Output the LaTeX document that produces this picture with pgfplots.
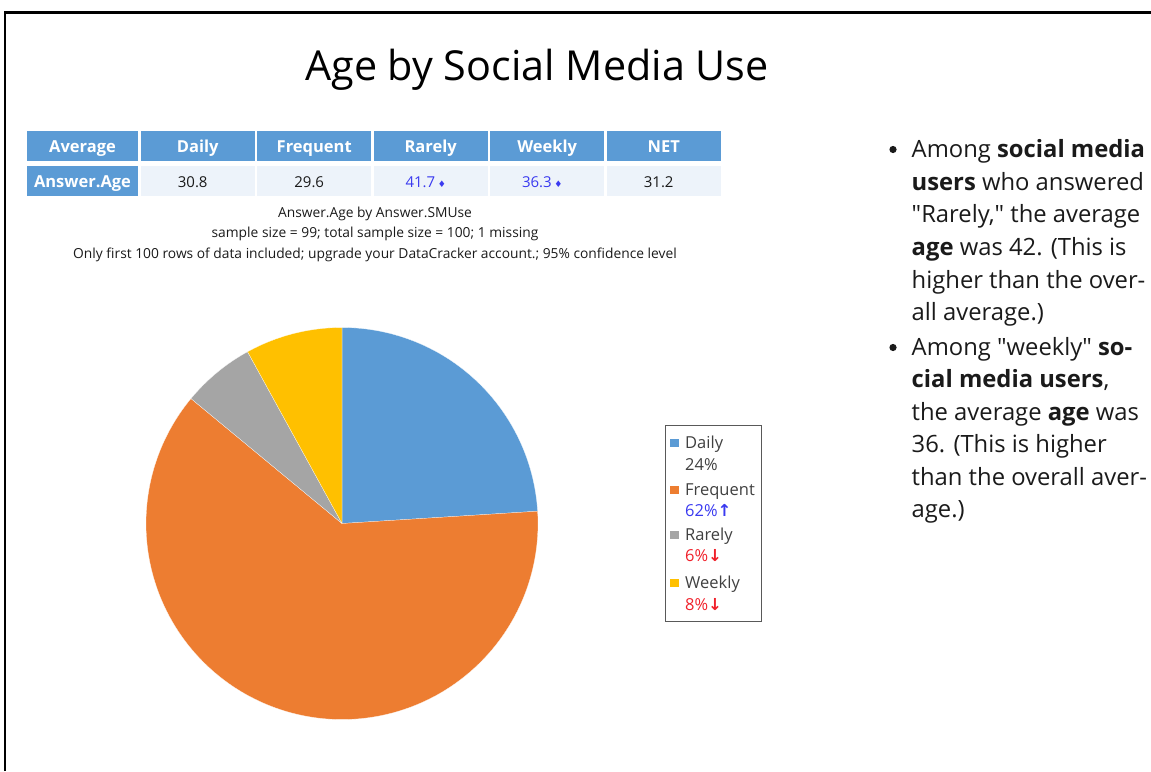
\documentclass[border=0pt]{standalone}
\usepackage{fontspec}
\setmainfont{Open Sans}
\newfontfamily\dejavu{DejaVu Sans}
\newfontfamily\osq{Open Sans}
\usepackage{pgfplots}
\pgfplotsset{compat=1.18}
\definecolor{cdaily}{HTML}{5B9BD5}
\definecolor{cfreq}{HTML}{ED7D31}
\definecolor{crare}{HTML}{A5A5A5}
\definecolor{cweek}{HTML}{FFC000}
\definecolor{hdr}{HTML}{5B9BD5}
\definecolor{rowbg}{HTML}{EDF3FA}
\definecolor{valblue}{HTML}{3A3AF0}
\definecolor{valred}{HTML}{F0202A}
\definecolor{txt}{HTML}{1A1A1A}
\definecolor{legtxt}{HTML}{404040}
% pie shares (percent)
\def\pDaily{24}
\def\pFreq{62}
\def\pRare{6}
\def\pWeek{8}
\pgfmathsetmacro\aA{90}
\pgfmathsetmacro\aB{\aA-3.6*\pDaily}
\pgfmathsetmacro\aC{\aB-3.6*\pFreq}
\pgfmathsetmacro\aD{\aC-3.6*\pRare}
\pgfmathsetmacro\aE{\aD-3.6*\pWeek}
\newcommand\q{{\osq\char34}}
\begin{document}
\begin{tikzpicture}
\useasboundingbox (0pt,0pt) rectangle (1151pt,-771pt);
% pie
\begin{axis}[at={(342pt,-523.5pt)}, anchor=center, scale only axis, width=392pt, height=392pt,
  xmin=-1, xmax=1, ymin=-1, ymax=1, hide axis, clip=false]
\addplot[draw=white, line width=0.2pt, fill=cdaily, domain=\aB:\aA, samples=90] ({cos(x)},{sin(x)}) -- (axis cs:0,0) -- cycle;
\addplot[draw=white, line width=0.2pt, fill=cfreq, domain=\aC:\aB, samples=200] ({cos(x)},{sin(x)}) -- (axis cs:0,0) -- cycle;
\addplot[draw=white, line width=0.2pt, fill=crare, domain=\aD:\aC, samples=30] ({cos(x)},{sin(x)}) -- (axis cs:0,0) -- cycle;
\addplot[draw=white, line width=0.2pt, fill=cweek, domain=\aE:\aD, samples=30] ({cos(x)},{sin(x)}) -- (axis cs:0,0) -- cycle;
\end{axis}
\begin{scope}[x=1pt,y=1pt]
% frame
\draw[black, line width=2.6pt] (5,-771) -- (5,-12.5) -- (1151,-12.5);
% title
\node[anchor=base, inner sep=0, text=black, font=\fontsize{41.3}{48}\selectfont] at (537,-80) {Age by Social Media Use};
% table
\fill[hdr] (27,-131) rectangle (138,-161);
\fill[hdr] (27,-166) rectangle (138,-196);
\node[anchor=base, inner sep=0, text=white, font=\fontsize{16.5}{19}\selectfont\bfseries] at (82.5,-152) {Average};
\node[anchor=base, inner sep=0, text=white, font=\fontsize{16.5}{19}\selectfont\bfseries] at (82.5,-187) {Answer.Age};
\foreach \k/\h/\v in {0/Daily/{30.8},1/Frequent/{29.6},2/Rarely/{\textcolor{valblue}{41.7\,{\dejavu\fontsize{9}{10}\selectfont ♦}}},3/Weekly/{\textcolor{valblue}{36.3\,{\dejavu\fontsize{9}{10}\selectfont ♦}}},4/NET/{31.2}}{
  \pgfmathsetmacro\xl{140.7+116.5*\k}
  \pgfmathsetmacro\xr{\xl+114}
  \pgfmathsetmacro\xc{\xl+57}
  \fill[hdr] (\xl,-131) rectangle (\xr,-161);
  \fill[rowbg] (\xl,-166) rectangle (\xr,-196);
  \node[anchor=base, inner sep=0, text=white, font=\fontsize{16.5}{19}\selectfont\bfseries] at (\xc,-152) {\h};
  \node[anchor=base, inner sep=0, text=txt, font=\fontsize{15}{18}\selectfont] at (\xc-5,-187) {\v};
}
% caption
\node[anchor=base, inner sep=0, text=txt, font=\fontsize{13.8}{16}\selectfont] at (375,-217) {Answer.Age by Answer.SMUse};
\node[anchor=base, inner sep=0, text=txt, font=\fontsize{13.8}{16}\selectfont] at (375,-237.5) {sample size = 99; total sample size = 100; 1 missing};
\node[anchor=base, inner sep=0, text=txt, font=\fontsize{13.8}{16}\selectfont] at (375,-258) {Only first 100 rows of data included; upgrade your DataCracker account.; 95\% confidence level};
% legend
\draw[gray!70!black, line width=0.9pt] (665.5,-425.5) rectangle (761.5,-621.5);
\foreach \y/\c in {448.3/cdaily,495/cfreq,540/crare,588.3/cweek}{
  \fill[\c] (670,-\y+1) rectangle (678.5,-\y+9.5);
}
\begin{scope}[every node/.style={anchor=base west, inner sep=0, font=\fontsize{16.5}{19}\selectfont}]
\node[text=legtxt] at (685,-448.3) {Daily};
\node[text=legtxt] at (685,-470) {24\%};
\node[text=legtxt] at (685,-495) {Frequent};
\node[text=valblue] at (685,-516.7) {62\%{\dejavu\bfseries ↑}};
\node[text=legtxt] at (685,-540) {Rarely};
\node[text=valred] at (685,-561.7) {6\%{\dejavu\bfseries ↓}};
\node[text=legtxt] at (685,-588.3) {Weekly};
\node[text=valred] at (685,-610) {8\%{\dejavu\bfseries ↓}};
\end{scope}
% right text
\fill[txt] (893,-149.5) circle (3.6);
\fill[txt] (893,-347.5) circle (3.6);
\begin{scope}[every node/.style={anchor=base west, inner sep=0, text=txt, font=\fontsize{23.8}{28}\selectfont}]
\node at (911.5,-157) {Among \textbf{social media}};
\node at (911.5,-190) {\textbf{users} who answered};
\node at (911.5,-222.5) {\q Rarely,\q{} the average};
\node at (911.5,-255) {\textbf{age} was 42. (This is};
\node at (911.5,-288) {higher than the over-};
\node at (911.5,-320.5) {all average.)};
\node at (911.5,-355) {Among \q weekly\q{} \textbf{so-}};
\node at (911.5,-387.5) {\textbf{cial media users},};
\node at (911.5,-420) {the average \textbf{age} was};
\node at (911.5,-452.5) {36. (This is higher};
\node at (911.5,-485) {than the overall aver-};
\node at (911.5,-517.5) {age.)};
\end{scope}
\end{scope}
\end{tikzpicture}
\end{document}
